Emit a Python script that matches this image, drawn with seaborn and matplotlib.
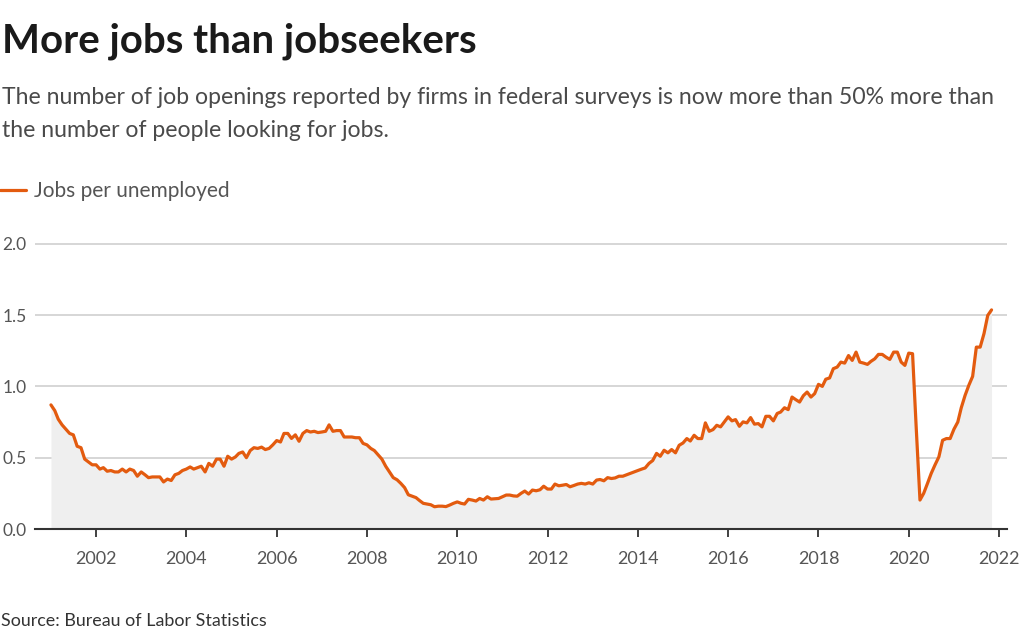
import seaborn as sns
import matplotlib.pyplot as plt
import matplotlib.dates as mdates
import numpy as np
import pandas as pd

# job openings per unemployed person, monthly, Jan 2001 - Nov 2021
ratio_2001 = [0.87, 0.83, 0.77, 0.73, 0.70, 0.67, 0.66, 0.58, 0.57, 0.49, 0.47, 0.45]
ratio_2002 = [0.45, 0.42, 0.43, 0.405, 0.41, 0.40, 0.40, 0.42, 0.40, 0.42, 0.41, 0.37]
ratio_2003 = [0.40, 0.38, 0.36, 0.365, 0.365, 0.365, 0.33, 0.35, 0.34, 0.38, 0.39, 0.41]
ratio_2004 = [0.42, 0.435, 0.42, 0.43, 0.44, 0.40, 0.46, 0.44, 0.49, 0.49, 0.44, 0.51]
ratio_2005 = [0.49, 0.505, 0.53, 0.54, 0.50, 0.55, 0.57, 0.565, 0.574, 0.557, 0.565, 0.59]
ratio_2006 = [0.62, 0.61, 0.67, 0.67, 0.635, 0.66, 0.615, 0.67, 0.69, 0.68, 0.685, 0.676]
ratio_2007 = [0.68, 0.685, 0.73, 0.685, 0.69, 0.69, 0.645, 0.645, 0.645, 0.64, 0.64, 0.60]
ratio_2008 = [0.59, 0.565, 0.55, 0.52, 0.49, 0.44, 0.40, 0.36, 0.345, 0.32, 0.29, 0.24]
ratio_2009 = [0.23, 0.22, 0.20, 0.18, 0.175, 0.17, 0.156, 0.16, 0.16, 0.157, 0.168, 0.18]
ratio_2010 = [0.19, 0.18, 0.175, 0.208, 0.203, 0.196, 0.214, 0.203, 0.226, 0.21, 0.212, 0.214]
ratio_2011 = [0.226, 0.238, 0.238, 0.232, 0.23, 0.25, 0.266, 0.245, 0.273, 0.268, 0.275, 0.30]
ratio_2012 = [0.28, 0.28, 0.315, 0.303, 0.307, 0.312, 0.296, 0.305, 0.315, 0.32, 0.315, 0.324]
ratio_2013 = [0.315, 0.343, 0.347, 0.338, 0.36, 0.354, 0.358, 0.37, 0.37, 0.38, 0.39, 0.40]
ratio_2014 = [0.41, 0.42, 0.428, 0.46, 0.48, 0.53, 0.51, 0.552, 0.534, 0.557, 0.534, 0.587]
ratio_2015 = [0.603, 0.634, 0.617, 0.657, 0.634, 0.634, 0.744, 0.685, 0.697, 0.727, 0.716, 0.75]
ratio_2016 = [0.786, 0.758, 0.767, 0.72, 0.751, 0.744, 0.781, 0.735, 0.739, 0.716, 0.79, 0.79]
ratio_2017 = [0.758, 0.81, 0.82, 0.85, 0.837, 0.925, 0.907, 0.89, 0.935, 0.96, 0.925, 0.949]
ratio_2018 = [1.014, 1.00, 1.05, 1.059, 1.124, 1.135, 1.17, 1.163, 1.216, 1.182, 1.24, 1.17]
ratio_2019 = [1.163, 1.154, 1.175, 1.193, 1.224, 1.224, 1.205, 1.189, 1.24, 1.24, 1.17, 1.147]
ratio_2020 = [1.233, 1.229, 0.72, 0.203, 0.25, 0.32, 0.39, 0.45, 0.506, 0.622, 0.634, 0.634]
ratio_2021 = [0.70, 0.75, 0.85, 0.937, 1.007, 1.07, 1.275, 1.275, 1.37, 1.497, 1.536]

yearly = [ratio_2001, ratio_2002, ratio_2003, ratio_2004, ratio_2005, ratio_2006,
          ratio_2007, ratio_2008, ratio_2009, ratio_2010, ratio_2011, ratio_2012,
          ratio_2013, ratio_2014, ratio_2015, ratio_2016, ratio_2017, ratio_2018,
          ratio_2019, ratio_2020, ratio_2021]
ratio = [v for year in yearly for v in year]

y_ticks = [0.0, 0.5, 1.0, 1.5, 2.0]
x_tick_years = list(range(2002, 2023, 2))

df = pd.DataFrame({
    "date": pd.date_range("2001-01-01", periods=len(ratio), freq="MS"),
    "ratio": ratio,
})

ORANGE = "#e35b0f"
FONT = "Lato"

sns.set_theme(style="white")
plt.rcParams["font.family"] = [FONT, "DejaVu Sans"]

fig = plt.figure(figsize=(10.24, 6.36), dpi=100)
ax = fig.add_axes([35 / 1024, 1 - 529 / 636, 972 / 1024, 286 / 636])

ax.fill_between(df["date"], df["ratio"], 0, color="#efefef", lw=0, zorder=1)
sns.lineplot(data=df, x="date", y="ratio", color=ORANGE, lw=2.3,
             label="Jobs per unemployed", legend=False, ax=ax, zorder=3)

ax.set_ylim(0, 2.005)
ax.set_xlim(pd.Timestamp("2000-08-25"), pd.Timestamp("2022-03-06"))
ax.set_yticks(y_ticks)
ax.set_yticklabels([f"{t:.1f}" for t in y_ticks])
ax.set_xticks([pd.Timestamp(f"{y}-01-01") for y in x_tick_years])
ax.xaxis.set_major_formatter(mdates.DateFormatter("%Y"))

ax.grid(axis="y", color="#cccccc", lw=1.1)
ax.grid(axis="x", visible=False)
ax.set_axisbelow(True)
for s in ["top", "right", "left"]:
    ax.spines[s].set_visible(False)
ax.spines["bottom"].set_color("#333333")
ax.spines["bottom"].set_linewidth(1.5)
ax.spines["bottom"].set_zorder(4)

ax.tick_params(axis="y", length=0, pad=6, labelsize=12.5, labelcolor="#555555")
ax.tick_params(axis="x", length=6, width=1.3, color="#333333", pad=10,
               labelsize=13, labelcolor="#555555", bottom=True)
ax.set_xlabel("")
ax.set_ylabel("")

fig.text(2 / 1024, 1 - 53 / 636, "More jobs than jobseekers", fontsize=29,
         fontweight="bold", color="#1a1a1a", va="baseline", ha="left")
fig.text(2 / 1024, 1 - 104 / 636,
         "The number of job openings reported by firms in federal surveys is now more than 50% more than",
         fontsize=16.6, color="#4a4a4a", va="baseline", ha="left")
fig.text(2 / 1024, 1 - 137 / 636, "the number of people looking for jobs.",
         fontsize=16.6, color="#4a4a4a", va="baseline", ha="left")

handles, labels = ax.get_legend_handles_labels()
fig.legend(handles, labels, loc="center left", bbox_to_anchor=(0, 1 - 191 / 636),
           frameon=False, fontsize=15, handlelength=1.25, handletextpad=0.4,
           borderpad=0, borderaxespad=0, labelcolor="#555555")

fig.text(1 / 1024, 1 - 626 / 636, "Source: Bureau of Labor Statistics", fontsize=12.9,
         color="#333333", va="baseline", ha="left")

fig.savefig("out.png", dpi=100)
